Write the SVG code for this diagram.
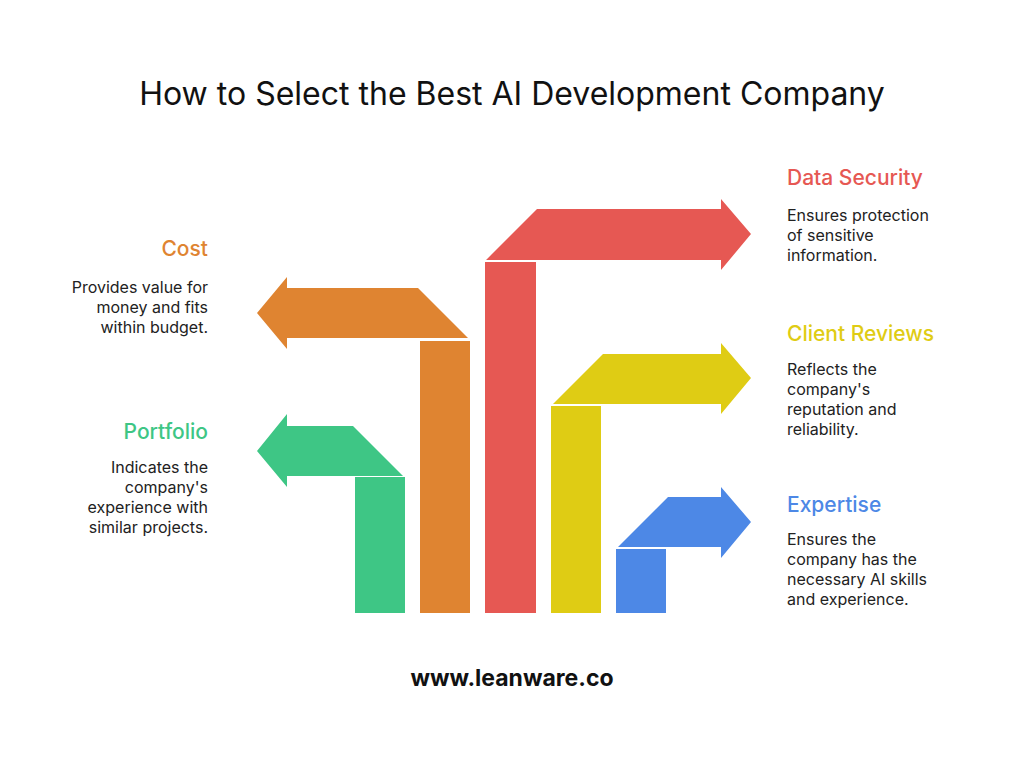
<svg xmlns="http://www.w3.org/2000/svg" width="1024" height="768" viewBox="0 0 1024 768">
<style>
text{font-family:Inter,"Open Sans",sans-serif}
.t{font-size:32px;fill:#111}
.h{font-size:21px;font-weight:500}
.b{font-size:16px;fill:#222}
.l{text-anchor:end}
</style>
<rect width="1024" height="768" fill="#fff"/>
<text class="t" x="512" y="105" text-anchor="middle">How to Select the Best AI Development Company</text>
<g id="connectors"></g>
<g id="portfolio">
<rect x="355" y="477" width="50" height="136" fill="#3EC685"/>
<path d="M403,476 L353,426 L287,426 L287,414 L257,451 L287,487 L287,476 Z" fill="#3EC685"/>
<text class="h l" x="208" y="439" fill="#3EC685">Portfolio</text>
<text class="b l" x="208" y="473">Indicates the</text>
<text class="b l" x="208" y="493">company's</text>
<text class="b l" x="208" y="513">experience with</text>
<text class="b l" x="208" y="533">similar projects.</text>
</g>
<g id="cost">
<rect x="420" y="341" width="50" height="272" fill="#DF8431"/>
<path d="M468,338 L418,288 L287,288 L287,277 L257,313 L287,349 L287,338 Z" fill="#DF8431"/>
<text class="h l" x="208" y="256" fill="#DF8431">Cost</text>
<text class="b l" x="208" y="293">Provides value for</text>
<text class="b l" x="208" y="313">money and fits</text>
<text class="b l" x="208" y="333">within budget.</text>
</g>
<g id="security">
<rect x="485" y="262" width="51" height="351" fill="#E65853"/>
<path d="M486,260 L537,209 L721,209 L721,199 L751,234 L721,270 L721,260 Z" fill="#E65853"/>
<text class="h" x="787" y="185" fill="#E65853">Data Security</text>
<text class="b" x="787" y="221">Ensures protection</text>
<text class="b" x="787" y="241">of sensitive</text>
<text class="b" x="787" y="261">information.</text>
</g>
<g id="reviews">
<rect x="551" y="406" width="50" height="207" fill="#DFCC14"/>
<path d="M553,404 L603,354 L721,354 L721,343 L751,378 L721,414 L721,404 Z" fill="#DFCC14"/>
<text class="h" x="787" y="341" fill="#DFCC14">Client Reviews</text>
<text class="b" x="787" y="375">Reflects the</text>
<text class="b" x="787" y="395">company's</text>
<text class="b" x="787" y="415">reputation and</text>
<text class="b" x="787" y="435">reliability.</text>
</g>
<g id="expertise">
<rect x="616" y="549" width="50" height="64" fill="#4D88E6"/>
<path d="M618,547 L668,497 L721,497 L721,487 L751,522 L721,558 L721,547 Z" fill="#4D88E6"/>
<text class="h" x="787" y="512" fill="#4D88E6">Expertise</text>
<text class="b" x="787" y="545">Ensures the</text>
<text class="b" x="787" y="565">company has the</text>
<text class="b" x="787" y="585">necessary AI skills</text>
<text class="b" x="787" y="605">and experience.</text>
</g>
<text x="512" y="686" text-anchor="middle" style="font-size:23px;font-weight:700;fill:#111">www.leanware.co</text>
</svg>
